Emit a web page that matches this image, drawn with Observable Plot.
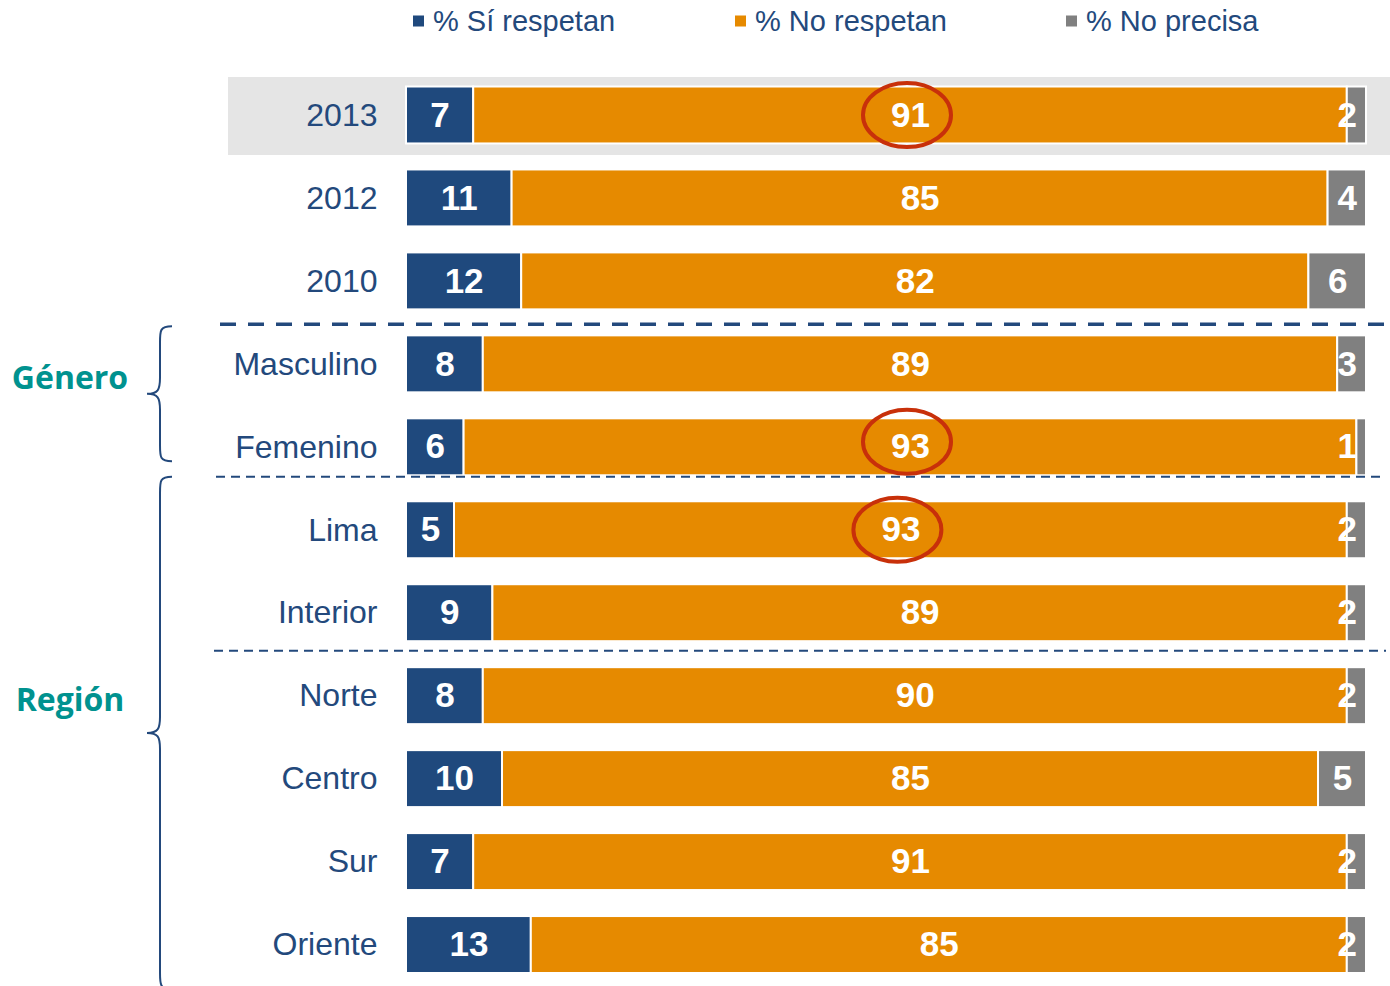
<!DOCTYPE html>
<html>
<head>
<meta charset="utf-8">
<script src="https://cdn.jsdelivr.net/npm/d3@7"></script>
<script src="https://cdn.jsdelivr.net/npm/@observablehq/plot@0.6"></script>
<style>
  html, body { margin: 0; padding: 0; background: #fff; }
  #wrap { position: relative; width: 1390px; height: 986px; font-family: "Liberation Sans", Arial, sans-serif; }
  #legend .item { position: absolute; top: 21px; transform: translateY(-50%); display: flex; align-items: center; gap: 9px; font-size: 29px; line-height: 1; color: #23497C; white-space: nowrap; }
  #legend .sw { width: 11px; height: 11px; display: inline-block; }
</style>
</head>
<body>
<div id="wrap">
  <div id="legend"></div>
  <div id="chart"></div>
</div>
<script>
// ---- data ----
const categories = ["2013", "2012", "2010", "Masculino", "Femenino", "Lima", "Interior", "Norte", "Centro", "Sur", "Oriente"];
const siRespetan = [7, 11, 12, 8, 6, 5, 9, 8, 10, 7, 13];
const noRespetan = [91, 85, 82, 89, 93, 93, 89, 90, 85, 91, 85];
const noPrecisa  = [2, 4, 6, 3, 1, 2, 2, 2, 5, 2, 2];
const seriesNames = ["% Sí respetan", "% No respetan", "% No precisa"];
const seriesColors = ["#1F497D", "#E68A00", "#808080"];
const groupNames = ["Género", "Región"];
const groupFirst = ["Masculino", "Lima"];
const groupLast = ["Femenino", "Oriente"];
const circled = ["2013", "Femenino", "Lima"]; // "% No respetan" values circled in red
const shadedRow = "2013";

// ---- long table ----
const seriesValues = [siRespetan, noRespetan, noPrecisa];
const rows = [];
categories.forEach((cat, i) => {
  let start = 0;
  seriesNames.forEach((s, k) => {
    const v = seriesValues[k][i];
    let lx = start + v / 2;
    if (k === 2) lx = 100 - Math.max(v, 4) / 2;
    rows.push({cat, series: s, value: v, start, end: start + v, lx});
    start += v;
  });
});

const navy = "#23497C";
const font = "'Liberation Sans', Arial, sans-serif";

const chart = Plot.plot({
  width: 1390,
  height: 986,
  marginLeft: 406,
  marginRight: 24,
  marginTop: 73.5,
  marginBottom: 0,
  style: {fontFamily: font, color: navy, background: "transparent", overflow: "visible"},
  x: {domain: [0, 100], axis: null},
  y: {domain: categories, padding: 0, round: false, label: null},
  color: {domain: seriesNames, range: seriesColors},
  marks: [
    Plot.barX(rows, {x1: "start", x2: "end", y: "cat", fill: "series", stroke: "white", strokeWidth: 2, insetTop: 13, insetBottom: 13}),
    Plot.text(rows, {x: "lx", y: "cat", text: d => String(d.value), fill: "white", fontSize: 35, fontWeight: "bold", fontFamily: font}),
    Plot.axisY({tickSize: 0, tickPadding: 29, fontSize: 32, label: null, fill: navy})
  ]
});
document.getElementById("chart").appendChild(chart);

// ---- decorations via Plot scales ----
const xs = chart.scale("x"), ys = chart.scale("y");
const bw = ys.bandwidth;
const svg = d3.select(chart);
const Y = c => ys.apply(c);

// shaded 2013 row
svg.insert("rect", ":first-child")
  .attr("x", 228).attr("width", 1390 - 228)
  .attr("y", Y(shadedRow) + 3.5).attr("height", 78)
  .attr("fill", "#E5E5E5");

const deco = svg.append("g");
// separators
deco.append("line").attr("x1", 220).attr("x2", 1386)
  .attr("y1", Y("Masculino") + 2).attr("y2", Y("Masculino") + 2)
  .attr("stroke", navy).attr("stroke-width", 3.5).attr("stroke-dasharray", "16 12");
deco.append("line").attr("x1", 216).attr("x2", 1386)
  .attr("y1", Y("Lima") - 11.5).attr("y2", Y("Lima") - 11.5)
  .attr("stroke", navy).attr("stroke-width", 2).attr("stroke-dasharray", "9 6");
deco.append("line").attr("x1", 214).attr("x2", 1386)
  .attr("y1", Y("Norte") - 3.5).attr("y2", Y("Norte") - 3.5)
  .attr("stroke", navy).attr("stroke-width", 2).attr("stroke-dasharray", "9 6");

// braces + group labels
function brace(top, bottom) {
  const xe = 172, xm = 160, xt = 147, r = 16, mid = (top + bottom) / 2;
  return `M${xe},${top} C${xm},${top} ${xm},${top + 4} ${xm},${top + r}` +
    ` L${xm},${mid - r} C${xm},${mid - 4} ${xm - 2},${mid} ${xt},${mid}` +
    ` C${xm - 2},${mid} ${xm},${mid + 4} ${xm},${mid + r}` +
    ` L${xm},${bottom - r} C${xm},${bottom - 4} ${xm},${bottom} ${xe},${bottom}`;
}
const braceTops = [Y(groupFirst[0]) + 4, Y(groupFirst[1]) - 11.5];
const braceBottoms = [Y(groupLast[0]) + bw - 27, Y(groupLast[1]) + bw + 3];
const labelYs = [Y(groupFirst[0]) + bw * 0.67, Y("Norte") + bw * 0.55];
groupNames.forEach((g, i) => {
  deco.append("path").attr("d", brace(braceTops[i], braceBottoms[i]))
    .attr("fill", "none").attr("stroke", navy).attr("stroke-width", 2);
  deco.append("text").attr("x", 70).attr("y", labelYs[i]).attr("dy", "0.35em")
    .attr("text-anchor", "middle").attr("fill", "#00928F")
    .attr("font-family", "'Open Sans', 'Noto Sans', sans-serif").attr("font-weight", "bold")
    .attr("font-size", 32).text(g);
});

// red ellipses around circled values
circled.forEach(c => {
  const r = rows.find(d => d.cat === c && d.series === seriesNames[1]);
  deco.append("ellipse")
    .attr("cx", xs.apply(r.lx) - 3).attr("cy", Y(c) + bw / 2 - (c === "Femenino" ? 5 : 0))
    .attr("rx", 44).attr("ry", 32)
    .attr("fill", "none").attr("stroke", "#C8300A").attr("stroke-width", 4);
});

// legend (HTML, above the SVG area)
const legendX = [413, 735, 1066];
const legend = d3.select("#legend");
seriesNames.forEach((s, i) => {
  const it = legend.append("div").attr("class", "item").style("left", legendX[i] + "px");
  it.append("span").attr("class", "sw").style("background", seriesColors[i]);
  it.append("span").text(s);
});
</script>
</body>
</html>
